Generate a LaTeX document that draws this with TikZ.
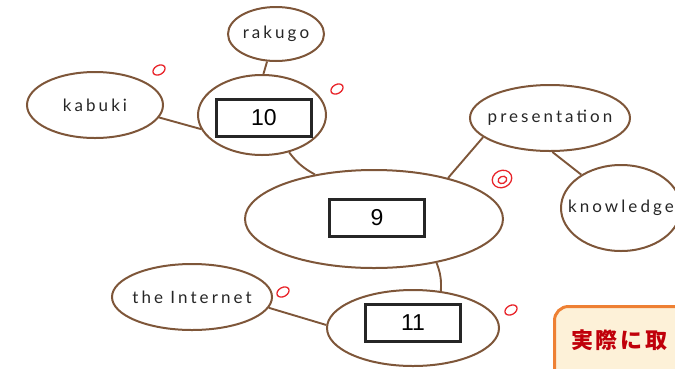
\documentclass[tikz,border=0pt]{standalone}
\usepackage{fontspec}
\setmainfont{Liberation Sans}
\newfontfamily\hand[LetterSpace=18]{Lato}
\newfontfamily\cjk[LetterSpace=12]{Noto Sans CJK JP}
\usetikzlibrary{shapes.geometric}
\definecolor{brownline}{HTML}{7E5639}
\definecolor{markred}{HTML}{E8242A}
\definecolor{notered}{HTML}{C0000A}
\definecolor{noteorange}{HTML}{EE8033}
\definecolor{notefill}{HTML}{FDF1D8}
\tikzset{
  bubble/.style={ellipse, draw=brownline, line width=2pt, inner xsep=-14pt, inner ysep=0pt, font=\hand\fontsize{17}{18}\selectfont, text=black!85},
  link/.style={draw=brownline, line width=1.9pt},
  numbox/.style={rectangle, draw=black!85, line width=2.2pt, minimum width=95pt, minimum height=37pt, inner sep=0pt, font=\fontsize{23}{24}\selectfont, fill=white},
  okmark/.style={draw=markred, line width=1.3pt},
}
\begin{document}
\begin{tikzpicture}[x=1pt,y=-1pt]
\useasboundingbox (0,0) rectangle (675,368);
\clip (0,0) rectangle (675,368);
% bubbles
\node[bubble, minimum width=96pt, minimum height=54pt] (rakugo) at (276,34) {rakugo};
\node[bubble, minimum width=136pt, minimum height=66pt] (kabuki) at (95,105) {kabuki};
\node[bubble, minimum width=128pt, minimum height=80pt] (e10) at (262,115) {};
\node[numbox] (b10) at (264,118) {10};
\node[bubble, minimum width=258pt, minimum height=98pt] (e9) at (374,219) {};
\node[numbox] (b9) at (377,218) {9};
\node[bubble, minimum width=160pt, minimum height=66pt] (pres) at (550,118) {presentation};
\node[bubble, minimum width=120pt, minimum height=86pt] (know) at (621,208) {knowledge};
\node[bubble, minimum width=160pt, minimum height=66pt] (inet) at (192,297) {the Internet};
\node[bubble, minimum width=172pt, minimum height=76pt] (e11) at (413,328) {};
\node[numbox] (b11) at (413,323) {11};
% connectors
\draw[link] (rakugo.-108) -- (e10.88);
\draw[link] (kabuki.-11) -- (e10.193);
\draw[link] (e10.-54) to[bend right=12] (e9.143);
\draw[link] (pres.196) -- (e9.29);
\draw[link] (pres.-86) -- (know.140);
\draw[link] (e9.-35) to[bend left=12] (e11.53);
\draw[link] (inet.-8) -- (e11.178);
% red check marks
\draw[okmark, rotate around={30:(159,70)}] (159,70) ellipse (6.5pt and 4.5pt);
\draw[okmark, rotate around={30:(337,89)}] (337,89) ellipse (6.5pt and 4.5pt);
\draw[okmark, rotate around={30:(283,292)}] (283,292) ellipse (6.5pt and 4.5pt);
\draw[okmark, rotate around={30:(511,310)}] (511,310) ellipse (6.5pt and 4.5pt);
\draw[okmark, rotate around={25:(502,179)}] (502,179) ellipse (10pt and 8.5pt);
\draw[okmark, rotate around={25:(502,179)}] (502,180) ellipse (4.5pt and 3.5pt);
% note box (cropped)
\node[draw=noteorange, fill=notefill, line width=3pt, rounded corners=14pt, minimum width=170pt, minimum height=100pt, anchor=north west] (note) at (553,305) {};
\node[font=\cjk\bfseries\fontsize{22}{24}\selectfont, text=notered, anchor=west, inner sep=0pt] (notetext) at (571,340) {実際に取};
\end{tikzpicture}
\end{document}
